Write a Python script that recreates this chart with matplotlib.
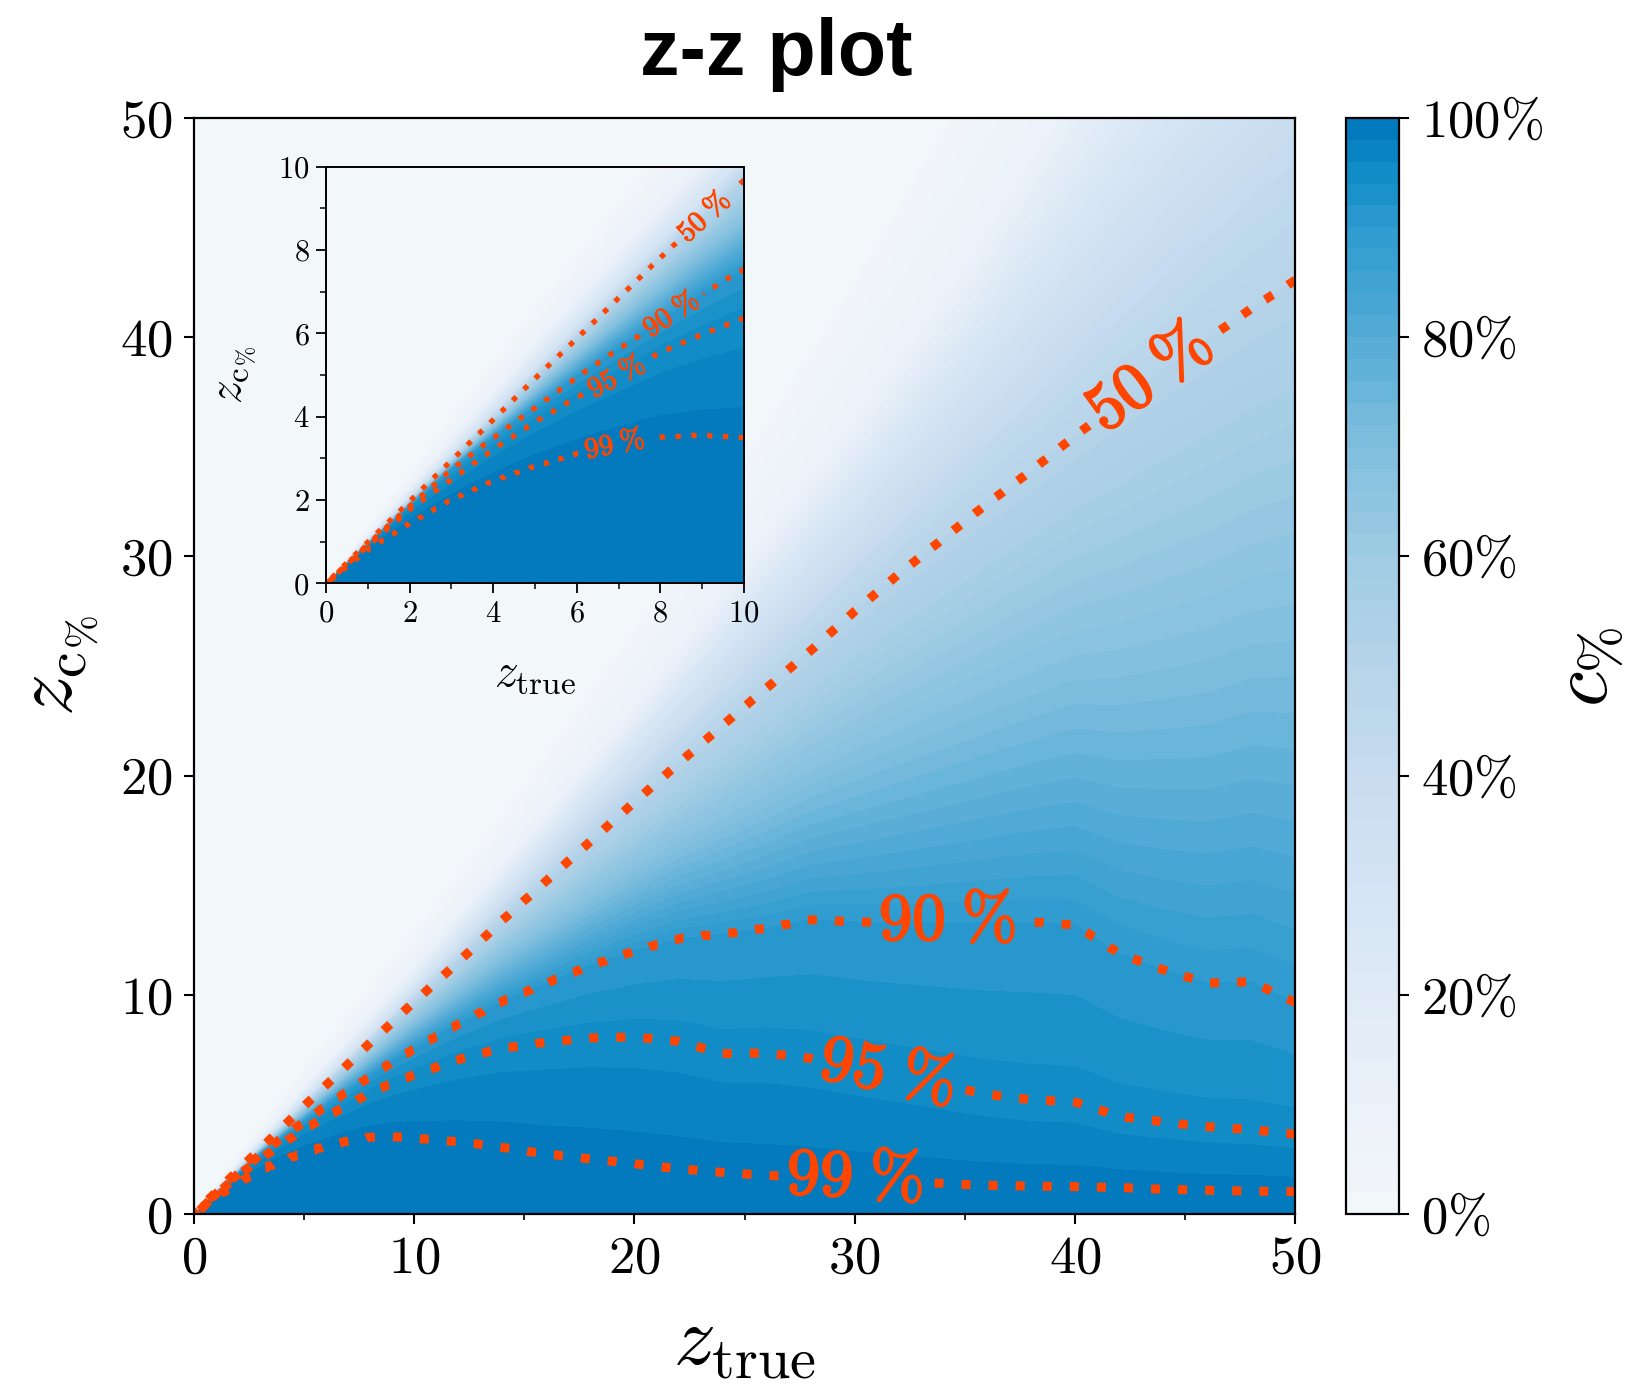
import numpy as np
import matplotlib
matplotlib.use("Agg")
import matplotlib.pyplot as plt
import matplotlib.patheffects as pe
from matplotlib.colors import LinearSegmentedColormap
from matplotlib.ticker import MultipleLocator, FuncFormatter

plt.rcParams.update({
    "mathtext.fontset": "cm",
    "font.family": "serif",
    "font.serif": ["cmr10"],
    "axes.formatter.use_mathtext": True,
    "axes.unicode_minus": False,
})

# ---- coverage contours c% in the (z_true, z_c%) plane ----
z_true_knots = [0, 0.5, 1, 2, 3, 4, 5, 6, 7, 8, 9, 10, 12, 14, 16, 18, 20,
                22, 24, 26, 28, 30, 32, 34, 36, 38, 40, 42, 44, 46, 48, 50]
z_c99 = [0, 0.42, 0.82, 1.45, 2.02, 2.47, 2.82, 3.12, 3.36, 3.52, 3.56, 3.50,
         3.32, 3.06, 2.75, 2.53, 2.30, 2.07, 1.90, 1.77, 1.68, 1.58, 1.49,
         1.40, 1.31, 1.28, 1.26, 1.21, 1.14, 1.09, 1.06, 1.03]
z_c95 = [0, 0.46, 0.91, 1.78, 2.50, 3.22, 3.88, 4.47, 4.98, 5.55, 5.98, 6.37,
         7.06, 7.58, 7.85, 8.05, 8.09, 7.88, 7.32, 7.35, 7.10, 6.66, 6.26,
         5.86, 5.46, 5.20, 5.10, 4.45, 4.19, 3.97, 3.85, 3.62]
z_c90 = [0, 0.48, 0.95, 1.86, 2.74, 3.50, 4.22, 4.95, 5.63, 6.28, 6.95, 7.55,
         8.68, 9.72, 10.55, 11.35, 12.02, 12.58, 12.80, 13.05, 13.45, 13.35,
         13.30, 13.30, 13.30, 13.33, 13.20, 11.90, 11.15, 10.55, 10.60, 9.65]
z_c50 = [0, 0.50, 0.99, 1.97, 2.95, 3.93, 4.92, 5.88, 6.85, 7.82, 8.75, 9.68,
         11.5, 13.4, 15.2, 17.0, 18.8, 20.55, 22.3, 24.0, 25.7, 27.5, 29.2,
         30.8, 32.4, 33.9, 35.5, 37.0, 38.5, 39.9, 41.3, 42.6]

# low-coverage fade above the 50% contour
fade_knots = [0, 5, 10, 15, 20, 25, 30, 35, 40, 45, 50]
z_c30 = [0, 5.15, 10.2, 15.6, 21.0, 26.6, 32.3, 38.0, 44.0, 50.0, 56.0]
z_c10 = [0, 5.7, 11.2, 17.0, 23.0, 29.5, 36.0, 43.0, 51.0, 59.0, 68.0]
z_c00 = [0, 6.8, 13.2, 20.0, 27.5, 35.5, 44.0, 53.0, 63.0, 74.0, 86.0]

label_levels = [50, 90, 95, 99]
main_label_pos = [(43.4, 38.05), (34.2, 13.3), (31.5, 6.5), (30.0, 1.58)]
inset_label_pos = [(9.06, 8.78), (8.26, 6.45), (6.95, 4.96), (6.9, 3.38)]

cbar_ticks = [0, 20, 40, 60, 80, 100]

cmap = LinearSegmentedColormap.from_list("coverage", [
    (0.00, "#f3f7f9"), (0.10, "#ebf1fa"), (0.20, "#dfeaf6"),
    (0.30, "#d4e4f3"), (0.40, "#c7dcef"), (0.50, "#b6d4ea"),
    (0.60, "#9fcbe3"), (0.70, "#80bfdf"), (0.80, "#56acd6"),
    (0.90, "#2c9acf"), (0.95, "#128dc8"), (1.00, "#0077bb")])

LINE_COLOR = "#ff4500"


def coverage_field(zt, zc):
    """Piecewise-linear c% in each z_true column, pinned to the contour curves."""
    curves = [(z_true_knots, z_c99, 99), (z_true_knots, z_c95, 95),
              (z_true_knots, z_c90, 90), (z_true_knots, z_c50, 50),
              (fade_knots, z_c30, 30), (fade_knots, z_c10, 10),
              (fade_knots, z_c00, 0)]
    Z = np.empty((len(zc), len(zt)))
    for i, x in enumerate(zt):
        ky = np.array([0.0] + [np.interp(x, cx, cy) for cx, cy, _ in curves])
        kv = np.array([100.0] + [lvl for _, _, lvl in curves], dtype=float)
        ky = ky + np.arange(len(ky)) * 1e-6
        Z[:, i] = np.interp(zc, ky, kv)
    return Z


def draw_panel(ax, lim, n, lw, fontsize, stroke, positions):
    zt = np.linspace(0, lim, n)
    zc = np.linspace(0, lim, n)
    X, Y = np.meshgrid(zt, zc)
    Z = coverage_field(zt, zc)
    cf = ax.contourf(X, Y, Z, levels=np.linspace(0, 100, 51), cmap=cmap,
                     vmin=0, vmax=100)
    cs = ax.contour(X, Y, Z, levels=label_levels, colors=LINE_COLOR,
                    linewidths=lw)
    cs.set_linestyle((0, (1, 2.0)))
    fmt = {lvl: r"$\mathbf{%d\;\%%}$" % lvl for lvl in label_levels}
    texts = ax.clabel(cs, label_levels, inline=True, fmt=fmt,
                      fontsize=fontsize, manual=positions, inline_spacing=8)
    # heavier strokes for the level labels
    for t in texts:
        t.set_path_effects([pe.withStroke(linewidth=stroke,
                                          foreground=LINE_COLOR)])
    ax.set_xlim(0, lim)
    ax.set_ylim(0, lim)
    return cf


fig = plt.figure(figsize=(16.34, 13.84), dpi=100)

# ---- main panel ----
ax = fig.add_axes([0.1186, 0.1228, 0.6742, 0.7921])
cf = draw_panel(ax, 50, 501, 6.5, 48, 1.6, main_label_pos)
ax.xaxis.set_major_locator(MultipleLocator(10))
ax.xaxis.set_minor_locator(MultipleLocator(5))
ax.yaxis.set_major_locator(MultipleLocator(10))
ax.tick_params(which="major", direction="out", length=7.5, width=1.5,
               labelsize=38, pad=8)
ax.tick_params(which="minor", direction="out", length=4, width=1.2)
for sp in ax.spines.values():
    sp.set_linewidth(1.6)
ax.set_xlabel(r"$z_{\mathrm{true}}$", fontsize=60)
ax.set_ylabel(r"$z_{\mathrm{c}_{\%}}$", fontsize=60)
ax.xaxis.set_label_coords(0.5, -0.085)
ax.yaxis.set_label_coords(-0.085, 0.5)

# ---- colorbar ----
cax = fig.add_axes([0.8239, 0.1228, 0.0325, 0.7921])
cb = fig.colorbar(cf, cax=cax, ticks=cbar_ticks)
cb.ax.yaxis.set_major_formatter(FuncFormatter(lambda v, p: r"$%d\%%$" % v))
cb.ax.tick_params(direction="out", length=7.5, width=1.5, labelsize=38, pad=8)
cb.outline.set_linewidth(1.6)
fig.text(0.973, 0.518, r"$c_{\%}$", fontsize=58, rotation=90,
         ha="center", va="center")

# ---- inset: zoom on the low-z corner ----
axin = fig.add_axes([0.1996, 0.5784, 0.2557, 0.3012])
draw_panel(axin, 10, 401, 3.8, 21, 0.8, inset_label_pos)
for a in (axin.xaxis, axin.yaxis):
    a.set_major_locator(MultipleLocator(2))
    a.set_minor_locator(MultipleLocator(1))
axin.tick_params(which="major", direction="out", length=7, width=1.3,
                 labelsize=22, pad=5)
axin.tick_params(which="minor", direction="out", length=4, width=1.1)
for sp in axin.spines.values():
    sp.set_linewidth(1.4)
axin.set_xlabel(r"$z_{\mathrm{true}}$", fontsize=34)
axin.set_ylabel(r"$z_{\mathrm{c}_{\%}}$", fontsize=34)
axin.xaxis.set_label_coords(0.5, -0.17)
axin.yaxis.set_label_coords(-0.16, 0.5)

fig.text(0.475, 0.9458, "z-z plot", fontsize=57, fontweight="bold",
         family="Liberation Sans", ha="center", va="baseline")

fig.savefig("out.png", dpi=100)
